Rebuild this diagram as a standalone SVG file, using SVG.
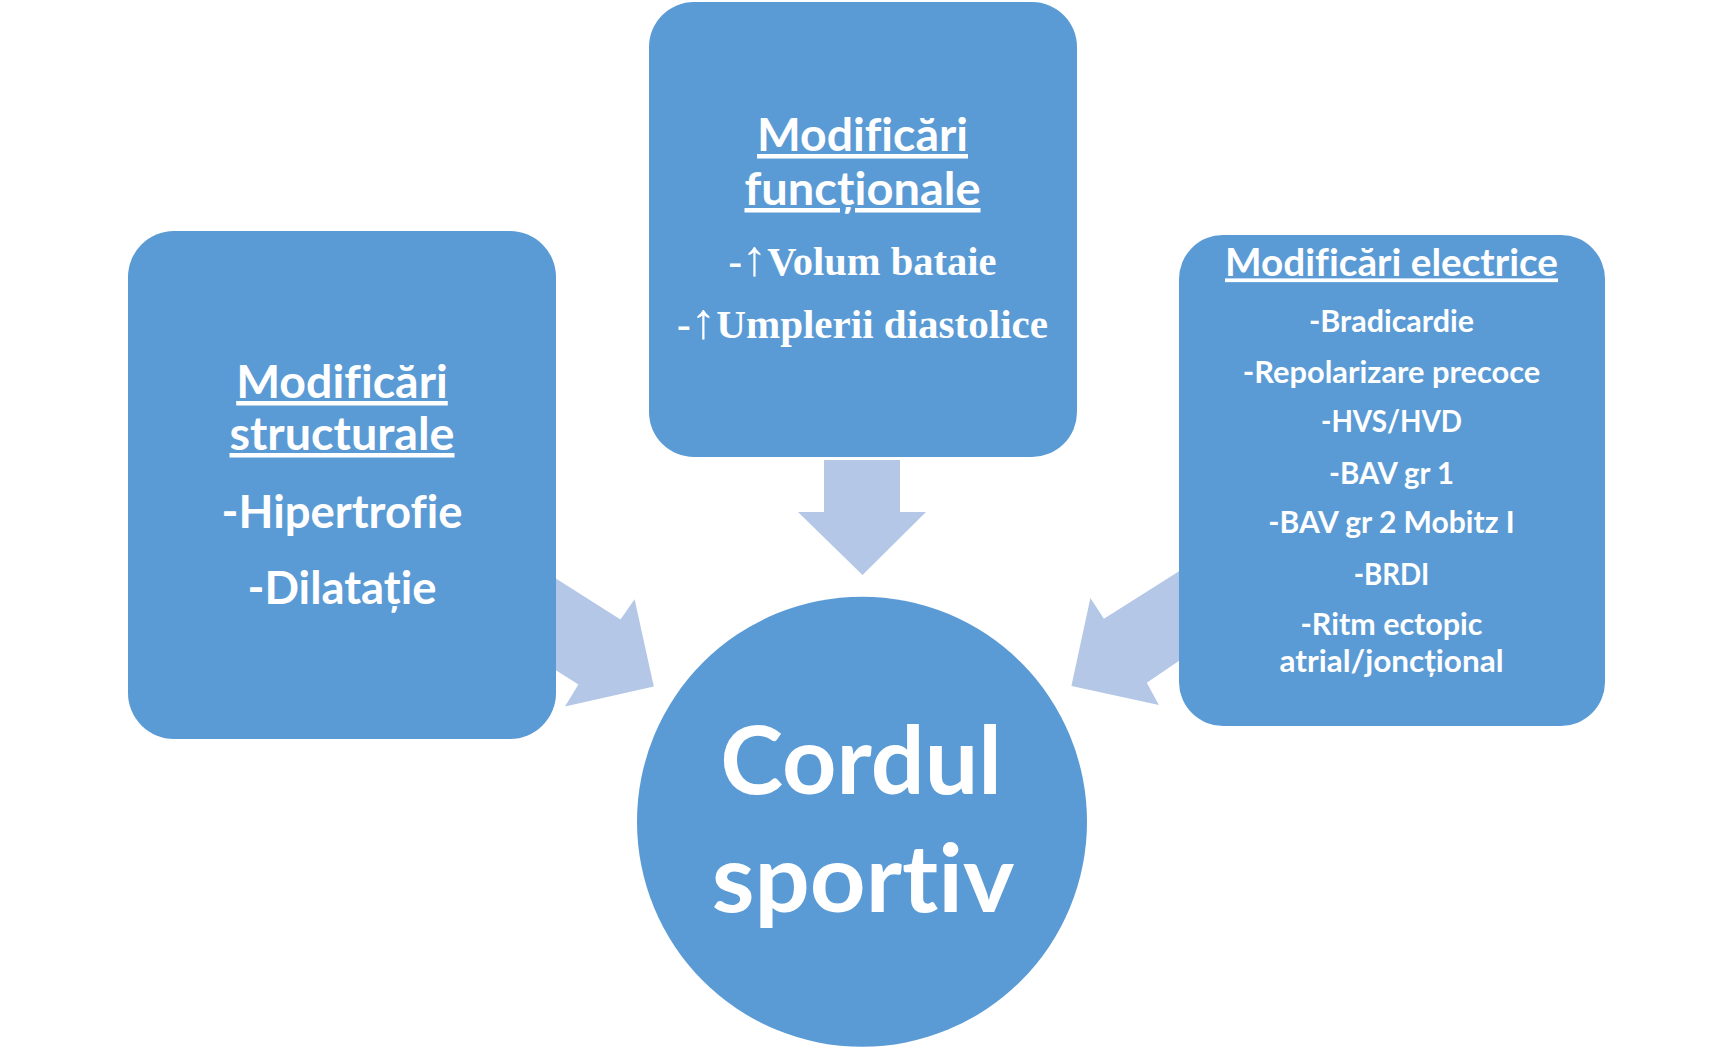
<svg xmlns="http://www.w3.org/2000/svg" width="1725" height="1049" viewBox="0 0 1725 1049">
<style>
.box{fill:#5B9BD5}
.arr{fill:#B4C7E7}
.t{fill:#FFFFFF;font-family:Lato,"Noto Sans","DejaVu Sans",sans-serif;font-weight:bold;text-anchor:middle;font-variant-ligatures:none;font-feature-settings:"liga" 0,"clig" 0}
.s{fill:#FFFFFF;font-family:"Liberation Serif","DejaVu Serif",serif;font-weight:bold;text-anchor:middle;font-variant-ligatures:none}
.up{font-size:50px;font-weight:normal}
.u{text-decoration:underline}
</style>
<rect width="1725" height="1049" fill="#FFFFFF"/>
<g id="connectors">
<polygon class="arr" points="824,460 900,460 900,512 926,512 862.5,575 798,512 824,512"/>
<polygon class="arr" points="548,573.5 620.5,619.6 634.6,599.3 653.8,686.4 565,706.4 578.4,684.6 548,665.2"/>
<polygon class="arr" points="1185,567.5 1103.9,618.7 1090.4,598.1 1071.4,686 1158.9,704.9 1146.8,682.7 1185,656.7"/>
</g>
<g id="node-structurale">
<rect class="box" x="128" y="231" width="428" height="508" rx="46" ry="46"/>
<text class="t u" x="342" y="398" font-size="45" textLength="211.6" lengthAdjust="spacingAndGlyphs">Modificări</text>
<text class="t u" x="342" y="450" font-size="45" textLength="225" lengthAdjust="spacingAndGlyphs">structurale</text>
<text class="t" x="342" y="528" font-size="45" textLength="241" lengthAdjust="spacingAndGlyphs">-Hipertrofie</text>
<text class="t" x="342" y="604" font-size="45" textLength="189" lengthAdjust="spacingAndGlyphs">-Dilatație</text>
</g>
<g id="node-functionale">
<rect class="box" x="649" y="2" width="428" height="455" rx="45" ry="45"/>
<text class="t u" x="862.5" y="151" font-size="45" textLength="211" lengthAdjust="spacingAndGlyphs">Modificări</text>
<text class="t u" x="862.5" y="205" font-size="45" textLength="236" lengthAdjust="spacingAndGlyphs">funcționale</text>
<text class="s" x="862.5" y="275" font-size="40" textLength="268" lengthAdjust="spacingAndGlyphs">-<tspan class="up">↑</tspan>Volum bataie</text>
<text class="s" x="862.5" y="337.5" font-size="40" textLength="371" lengthAdjust="spacingAndGlyphs">-<tspan class="up">↑</tspan>Umplerii diastolice</text>
</g>
<g id="node-electrice">
<rect class="box" x="1179" y="235" width="426" height="491" rx="44" ry="44"/>
<text class="t u" x="1391.5" y="276.4" font-size="37.4" textLength="333" lengthAdjust="spacingAndGlyphs">Modificări electrice</text>
<text class="t" x="1391.5" y="332" font-size="29.7" textLength="165" lengthAdjust="spacingAndGlyphs">-Bradicardie</text>
<text class="t" x="1391.5" y="382.5" font-size="29.7" textLength="297.5" lengthAdjust="spacingAndGlyphs">-Repolarizare precoce</text>
<text class="t" x="1391.5" y="432" font-size="29.7" textLength="141" lengthAdjust="spacingAndGlyphs">-HVS/HVD</text>
<text class="t" x="1391.5" y="483.7" font-size="29.7" textLength="125" lengthAdjust="spacingAndGlyphs">-BAV gr 1</text>
<text class="t" x="1391.5" y="533.4" font-size="29.7" textLength="246.4" lengthAdjust="spacingAndGlyphs">-BAV gr 2 Mobitz I</text>
<text class="t" x="1391.5" y="584.8" font-size="29.7" textLength="75.7" lengthAdjust="spacingAndGlyphs">-BRDI</text>
<text class="t" x="1391.5" y="634.6" font-size="29.7" textLength="182" lengthAdjust="spacingAndGlyphs">-Ritm ectopic</text>
<text class="t" x="1391.5" y="671.7" font-size="29.7" textLength="224" lengthAdjust="spacingAndGlyphs">atrial/joncțional</text>
</g>
<g id="node-cordul">
<circle class="box" cx="862" cy="821.7" r="225"/>
<text class="t" x="861" y="794" font-size="93.6" textLength="281.7" lengthAdjust="spacingAndGlyphs">Cordul</text>
<text class="t" x="863" y="911.7" font-size="93.6" textLength="302.7" lengthAdjust="spacingAndGlyphs">sportiv</text>
</g>
</svg>
